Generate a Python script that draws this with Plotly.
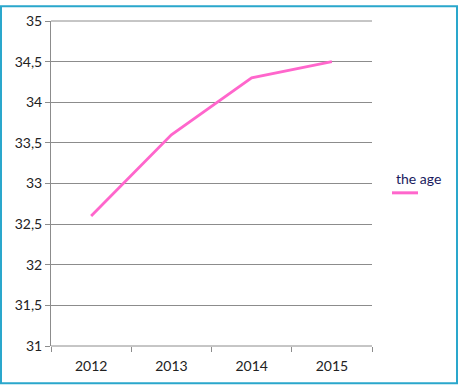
import plotly.graph_objects as go

years = ["2012", "2013", "2014", "2015"]
age = [32.6, 33.6, 34.3, 34.5]
y_ticks = [31, 31.5, 32, 32.5, 33, 33.5, 34, 34.5, 35]
y_tick_text = ["31", "31,5", "32", "32,5", "33", "33,5", "34", "34,5", "35"]
y_min, y_max = 31, 35
series_name = "the age"

W, H = 458, 386
L, R, T, B = 51, 86, 16, 39
pw, ph = W - L - R, H - T - B

def px(x):
    return (x - L) / pw

def py(y):
    return (H - B - y) / ph

grid = "#8c8c8c"

fig = go.Figure()
fig.add_trace(go.Scatter(x=years, y=age, mode="lines", name=series_name,
                         line=dict(color="#ff66cc", width=2.8), showlegend=False))

fig.update_layout(
    width=W, height=H,
    margin=dict(l=L, r=R, t=T, b=B),
    paper_bgcolor="white", plot_bgcolor="white",
    font=dict(family="Lato, Open Sans, sans-serif", size=14, color="#222"),
    xaxis=dict(type="category", range=[-0.5, 3.5], showgrid=False,
               ticks="outside", tickson="boundaries", ticklen=5, tickcolor=grid,
               ticklabelstandoff=10,
               showline=False, zeroline=False, tickfont=dict(size=14, color="#222")),
    yaxis=dict(range=[y_min, y_max], tickvals=y_ticks, ticktext=y_tick_text,
               showgrid=True, gridcolor=grid, gridwidth=1,
               showline=True, linecolor=grid, linewidth=1,
               ticks="outside", ticklen=5, tickcolor=grid, zeroline=False,
               tickfont=dict(size=14, color="#222")),
    shapes=[
        dict(type="line", xref="paper", yref="paper", x0=0, x1=1, y0=1, y1=1,
             line=dict(color=grid, width=1), layer="below"),
        dict(type="line", xref="paper", yref="paper", x0=0, x1=1, y0=0, y1=0,
             line=dict(color=grid, width=1), layer="below"),
        dict(type="rect", xref="paper", yref="paper",
             x0=px(1), x1=px(457), y0=py(385), y1=py(1),
             line=dict(color="#2aa7cc", width=2), fillcolor="rgba(0,0,0,0)", layer="above"),
        dict(type="line", xref="paper", yref="paper",
             x0=px(392), x1=px(418), y0=py(191), y1=py(191),
             line=dict(color="#ff66cc", width=3)),
    ],
    annotations=[
        dict(text=series_name, xref="paper", yref="paper", x=px(394), y=py(176),
             xanchor="left", yanchor="middle", showarrow=False,
             font=dict(size=14, color="#1a1a5e", family="Lato, Open Sans, sans-serif")),
    ],
)

fig.write_html("out.html", config={"displayModeBar": False},
               post_script="document.body.style.margin='0';document.body.style.padding='0';document.documentElement.style.overflow='hidden';")
